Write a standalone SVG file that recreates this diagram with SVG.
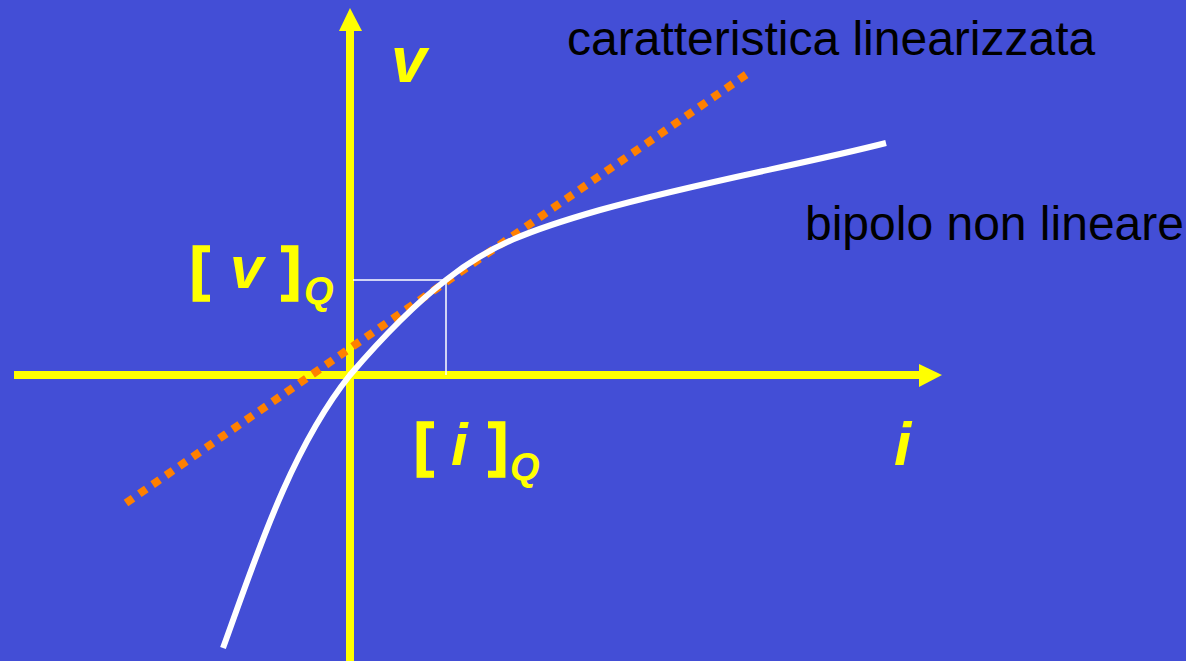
<svg xmlns="http://www.w3.org/2000/svg" width="1186" height="661" viewBox="0 0 1186 661">
<style>
.ax{stroke:#FFFF00;stroke-width:8;fill:none}
.yl{fill:#FFFF00;font-family:"Liberation Sans",Arial,sans-serif;font-weight:bold}
.it{font-style:italic}
.bk{fill:#000;font-family:"Liberation Sans",Arial,sans-serif;font-size:48px}
</style>
<rect x="0" y="0" width="1186" height="661" fill="#434ED6"/>
<g id="axes">
<line class="ax" x1="14" y1="375" x2="922" y2="375"/>
<polygon points="919,364 942,375 919,387" fill="#FFFF00"/>
<line class="ax" x1="350" y1="661" x2="350" y2="28"/>
<polygon points="339,31 350,8 362,31" fill="#FFFF00"/>
</g>
<g id="connectors">
<line id="linearized" x1="126" y1="503" x2="750" y2="72" stroke="#FF8000" stroke-width="8" stroke-dasharray="8.5 7.7"/>
<path id="curve" d="M223,648 C255,560 290,450 350,375 C380,340 410,308 446,280 C490,245 530,230 600,210 C700,182 800,165 886,143" fill="none" stroke="#FFFFFF" stroke-width="6" stroke-linecap="butt"/>
<polyline id="qlines" points="353,280 446,280 446,375" fill="none" stroke="#FFFFFF" stroke-width="1.5"/>
</g>
<g id="labels">
<text class="yl it" x="391" y="82" font-size="64">v</text>
<text class="yl it" x="894" y="465" font-size="62">i</text>
<text class="yl" x="190" y="289" font-size="60" stroke="#FFFF00" stroke-width="1.5">[</text>
<text class="yl it" x="230" y="288" font-size="60">v</text>
<text class="yl" x="281" y="289" font-size="60" stroke="#FFFF00" stroke-width="1.5">]</text>
<text class="yl it" x="304" y="304" font-size="38">Q</text>
<text class="yl" x="414" y="465" font-size="60" stroke="#FFFF00" stroke-width="1.5">[</text>
<text class="yl it" x="451" y="465" font-size="60">i</text>
<text class="yl" x="488" y="465" font-size="60" stroke="#FFFF00" stroke-width="1.5">]</text>
<text class="yl it" x="510" y="480" font-size="38">Q</text>
<text class="bk" x="567" y="55">caratteristica linearizzata</text>
<text class="bk" x="805" y="240">bipolo non lineare</text>
</g>
</svg>
